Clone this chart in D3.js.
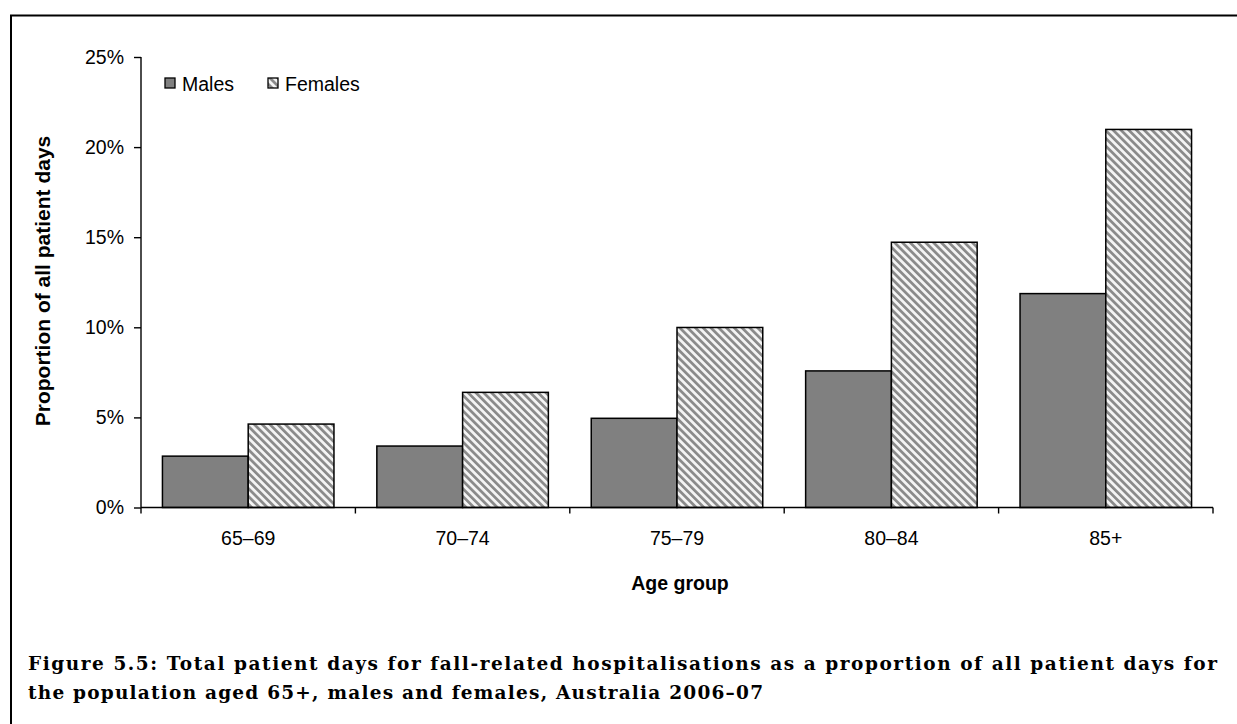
<!DOCTYPE html>
<html>
<head>
<meta charset="utf-8">
<script src="https://cdn.jsdelivr.net/npm/d3@7"></script>
<style>
  body { margin: 0; background: #fff; }
  svg { display: block; }
</style>
</head>
<body>
<svg id="chart" width="1237" height="724"></svg>
<script>
  // data
  var ageGroups = ["65–69", "70–74", "75–79", "80–84", "85+"];
  var seriesNames = ["Males", "Females"];
  var males = [2.85, 3.41, 4.95, 7.58, 11.87];
  var females = [4.63, 6.39, 9.99, 14.72, 20.98];
  var yTicks = [0, 5, 10, 15, 20, 25];
  var captionLines = [
    "Figure 5.5: Total patient days for fall-related hospitalisations as a proportion of all patient days for",
    "the population aged 65+, males and females, Australia 2006–07"
  ];

  var svg = d3.select("#chart");
  var plotLeft = 141, plotRight = 1213, plotTop = 57, plotBottom = 507.5;
  var font = "'Liberation Sans', Arial, sans-serif";

  // frame round the figure (only top and left show)
  svg.append("path")
    .attr("d", "M11,1000V15.5H1300")
    .attr("fill", "none").attr("stroke", "#000").attr("stroke-width", 2);

  var defs = svg.append("defs");
  var pat = defs.append("pattern")
    .attr("id", "hatch")
    .attr("patternUnits", "userSpaceOnUse")
    .attr("width", 5.5).attr("height", 5.5)
    .attr("patternTransform", "rotate(-45)");
  pat.append("rect").attr("width", 5.5).attr("height", 5.5).attr("fill", "#f4f4f4");
  pat.append("rect").attr("width", 2.7).attr("height", 5.5).attr("fill", "#8a8a8a");

  var fills = { Males: "#808080", Females: "url(#hatch)" };

  var x = d3.scaleBand().domain(ageGroups).range([plotLeft, plotRight])
    .paddingInner(0.2).paddingOuter(0.1);
  var xs = d3.scaleBand().domain(seriesNames).range([0, x.bandwidth()]);
  var y = d3.scaleLinear().domain([0, 25]).range([plotBottom, plotTop]);

  var rows = ageGroups.map(function(g, i) {
    return { group: g, values: [
      { key: "Males", v: males[i] },
      { key: "Females", v: females[i] }
    ]};
  });

  var groups = svg.append("g").selectAll("g")
    .data(rows).enter().append("g")
    .attr("transform", function(d) { return "translate(" + x(d.group) + ",0)"; });

  groups.selectAll("rect")
    .data(function(d) { return d.values; })
    .enter().append("rect")
      .attr("x", function(d) { return xs(d.key); })
      .attr("y", function(d) { return y(d.v); })
      .attr("width", xs.bandwidth())
      .attr("height", function(d) { return y(0) - y(d.v); })
      .attr("fill", function(d) { return fills[d.key]; })
      .attr("stroke", "#000")
      .attr("stroke-width", 1.5);

  // y axis
  var yAxis = svg.append("g")
    .attr("transform", "translate(" + plotLeft + ",0)")
    .call(d3.axisLeft(y).tickValues(yTicks).tickSize(7).tickPadding(10)
      .tickFormat(function(d) { return d + "%"; }));
  yAxis.select(".domain").attr("d", "M0," + plotTop + "V" + plotBottom);

  // x axis: labels under each group, ticks on group boundaries
  var xAxis = svg.append("g")
    .attr("transform", "translate(0," + plotBottom + ")")
    .call(d3.axisBottom(x).tickSize(0).tickPadding(24));
  xAxis.select(".domain").attr("d", "M" + plotLeft + ",0H" + plotRight);
  var bounds = ageGroups.map(function(g) { return x(g) - x.step() * 0.1; });
  bounds.push(plotRight);
  xAxis.selectAll(".bound").data(bounds).enter().append("line")
    .attr("class", "bound")
    .attr("x1", function(d) { return d; }).attr("x2", function(d) { return d; })
    .attr("y1", 0).attr("y2", 6).attr("stroke", "#000");

  svg.selectAll(".tick text")
    .attr("font-family", font).attr("font-size", 19.5).attr("fill", "#000");
  svg.selectAll(".domain, .tick line, .bound")
    .attr("stroke", "#000").attr("stroke-width", 1.4);

  // axis titles
  svg.append("text")
    .attr("x", (plotLeft + plotRight) / 2 + 3).attr("y", 590)
    .attr("text-anchor", "middle")
    .attr("font-family", font).attr("font-size", 19.5).attr("font-weight", "bold")
    .text("Age group");
  svg.append("text")
    .attr("transform", "translate(50," + 281 + ") rotate(-90)")
    .attr("text-anchor", "middle")
    .attr("font-family", font).attr("font-size", 21).attr("font-weight", "bold")
    .text("Proportion of all patient days");

  // legend
  var legend = svg.append("g").selectAll("g")
    .data(seriesNames).enter().append("g")
    .attr("transform", function(d, i) { return "translate(" + (165 + i * 103) + ",78)"; });
  legend.append("rect")
    .attr("width", 10).attr("height", 10)
    .attr("fill", function(d) { return fills[d]; })
    .attr("stroke", "#000").attr("stroke-width", 1.3);
  legend.append("text")
    .attr("x", 17).attr("y", 12.5)
    .attr("font-family", font).attr("font-size", 19.5)
    .text(function(d) { return d; });

  // caption
  svg.append("g").selectAll("text")
    .data(captionLines).enter().append("text")
    .attr("x", 28)
    .attr("y", function(d, i) { return 670 + i * 29; })
    .attr("font-family", "'DejaVu Serif', 'Liberation Serif', serif")
    .attr("font-size", 18.5).attr("font-weight", "bold")
    .attr("textLength", function(d, i) { return i === 0 ? 1189 : 735; })
    .attr("lengthAdjust", "spacing")
    .text(function(d) { return d; });
</script>
</body>
</html>
